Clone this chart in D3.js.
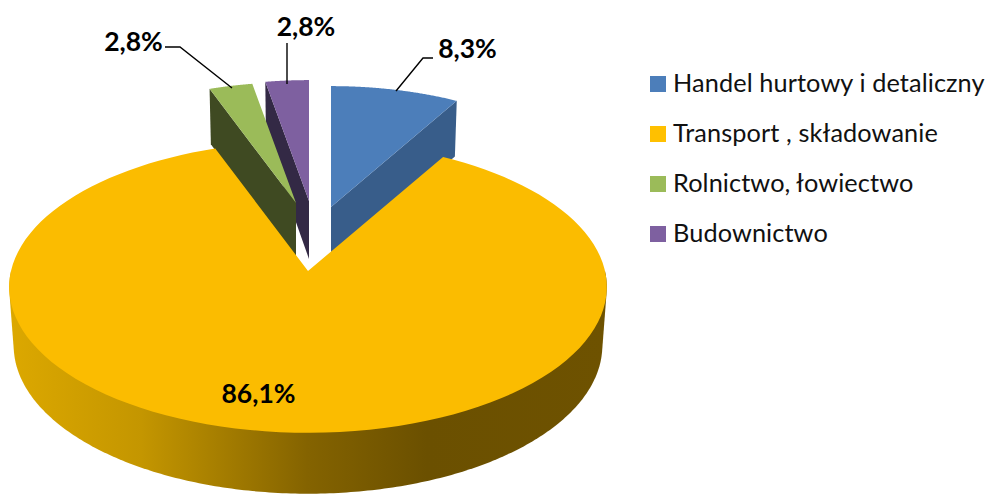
<!DOCTYPE html>
<html><head><meta charset="utf-8">
<script src="https://cdn.jsdelivr.net/npm/d3@7/dist/d3.min.js"></script>
<style>html,body{margin:0;padding:0;background:#fff}svg{display:block}text{font-family:Lato,"Open Sans",sans-serif}</style>
</head><body><svg id="c" width="993" height="495"></svg>
<script>
const categories = ["Handel hurtowy i detaliczny","Transport , składowanie","Rolnictwo, łowiectwo","Budownictwo"];
const values = [8.3,86.1,2.8,2.8];
const labels = ["8,3%","86,1%","2,8%","2,8%"];
const topColors = ["#4C7EBA","#FBBC00","#9BBB59","#7E60A0"];
const wallColors = ["#385D8A","#8A6800","#3F4A22","#332945"];

const svg = d3.select("#c");
const arcs = d3.pie().sort(null).value(d=>d)(values);
const A=297,B=144,K=0.11,DEPTH=58;
// each exploded slice has its own apex and scale
const slices = [
 {cx:331,cy:207,s:0.925},
 {cx:308,cy:271,s:1},
 {cx:296,cy:203,s:0.925},
 {cx:309,cy:201,s:0.925}
];
function proj(sl,a,r,low){
  const u=Math.sin(a)*r*sl.s, v=-Math.cos(a)*r*sl.s, w=1-K*v;
  const f=low?0.985:1;
  return [sl.cx+A*u/w*f, sl.cy+B*v/w+(low?DEPTH*(1+0.05*v):0)];
}
const line=d3.line();
function samples(a0,a1,n){n=n||120;return d3.range(0,n+1).map(i=>a0+(a1-a0)*i/n);}

// horizontal gradient for the yellow wall
const grad=svg.append("defs").append("linearGradient").attr("id","wall").attr("gradientUnits","userSpaceOnUse")
  .attr("x1",10).attr("x2",605).attr("y1",0).attr("y2",0);
[[0,"#DCA800"],[0.22,"#C49600"],[0.5,"#846300"],[0.7,"#6B5000"],[1,"#6E5200"]].forEach(s=>grad.append("stop").attr("offset",s[0]).attr("stop-color",s[1]));

function radialWall(i,angle){
  const sl=slices[i];
  return line([proj(sl,angle,0,false),proj(sl,angle,1,false),proj(sl,angle,1,true),proj(sl,angle,0,true)]);
}
function topFace(i){
  const sl=slices[i],d=arcs[i];
  return line([proj(sl,0,0,false),...samples(d.startAngle,d.endAngle).map(a=>proj(sl,a,1,false))])+"Z";
}
// draw order: back slices first, yellow last
[0,3,2].forEach(i=>{
  const edge = i===0?arcs[i].endAngle:arcs[i].startAngle;
  svg.append("path").attr("d",radialWall(i,edge)).attr("fill",wallColors[i]);
  svg.append("path").attr("d",topFace(i)).attr("fill",topColors[i]);
});
// yellow: wall silhouette is the hull of the front half of both rims, top face covers the rest
{
  const sl=slices[1],as=samples(Math.PI/2,Math.PI*1.5,240);
  const hull=d3.polygonHull([...as.map(a=>proj(sl,a,1,false)),...as.map(a=>proj(sl,a,1,true))]);
  svg.append("path").attr("d",line(hull)+"Z").attr("fill","url(#wall)");
  svg.append("path").attr("d",topFace(1)).attr("fill",topColors[1]);
}
// leader lines
const leaders=[
 [[433,58],[423,58],[396,91]],
 [[287,43],[287,84]],
 [[165,47],[180,47],[232,88]]
];
leaders.forEach(p=>svg.append("path").attr("d",line(p)).attr("fill","none").attr("stroke","#000").attr("stroke-width",1.4));
// data labels
const labelPos=[[467.5,58],[258.5,403],[133.5,51],[306,36]];
labels.forEach((t,i)=>svg.append("text").attr("x",labelPos[i][0]).attr("y",labelPos[i][1]).attr("text-anchor","middle")
  .attr("font-size",26.5).attr("font-weight",700).attr("fill","#000").text(t));
// legend
const legendY=d3.scalePoint().domain(categories).range([84,234]);
categories.forEach((c,i)=>{
  svg.append("rect").attr("x",650).attr("y",legendY(c)-8).attr("width",16).attr("height",16).attr("fill",topColors[i]==="#FBBC00"?"#FFC000":topColors[i]);
  svg.append("text").attr("x",673).attr("y",legendY(c)+8).attr("font-size",25.3).attr("letter-spacing",0.1).attr("fill","#111").text(c);
});
</script></body></html>
